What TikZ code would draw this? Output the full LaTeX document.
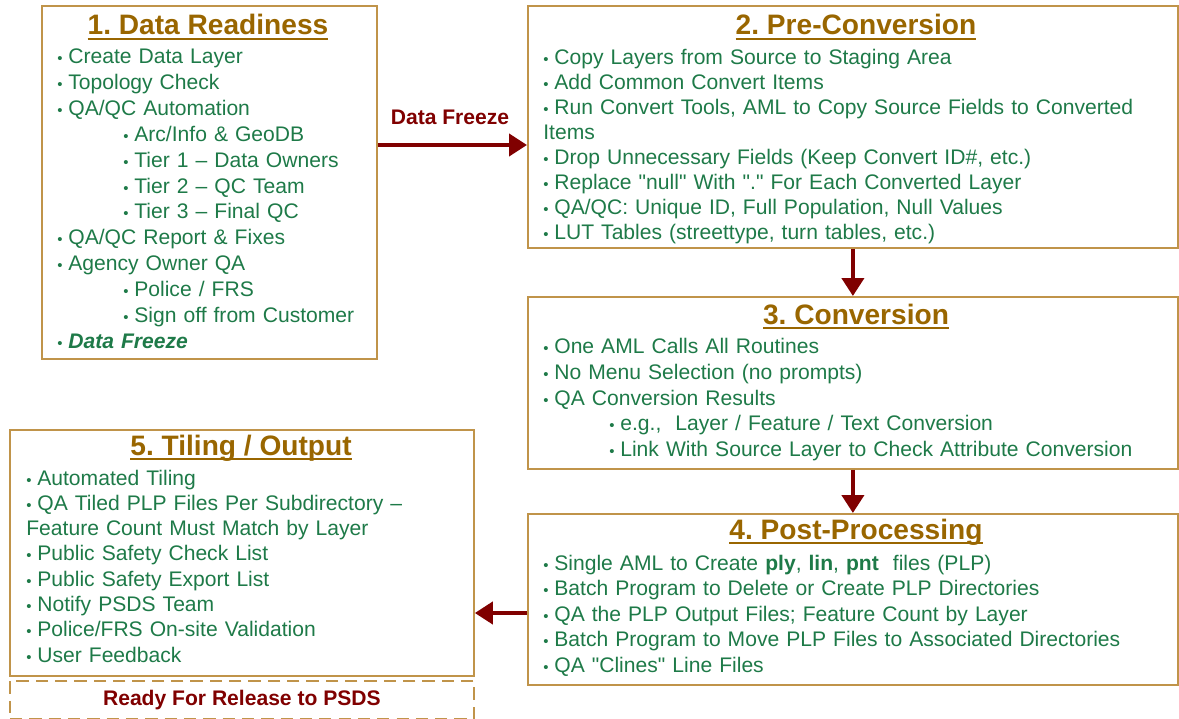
\documentclass[tikz,border=0pt]{standalone}
\usepackage{fontspec}
\setmainfont{Liberation Sans}
\usetikzlibrary{positioning, calc, arrows.meta}
\definecolor{boxgold}{HTML}{C0944A}
\definecolor{titlebrown}{HTML}{996600}
\definecolor{itemgreen}{HTML}{1E7A48}
\definecolor{flowred}{HTML}{800000}
\tikzset{ % box, title and list styles
  stage box/.style={draw=boxgold,line width=1.1pt,anchor=north west,inner sep=0},
  stage title/.style={text=titlebrown,font=\fontsize{16pt}{19pt}\selectfont\bfseries,anchor=base,inner sep=0},
  stage list/.style={text=itemgreen,font=\fontsize{12pt}{#1}\selectfont,align=left,
    anchor=base west,inner sep=0,text width=14cm},
  flow/.style={flowred,line width=2.3pt,-{Triangle[length=0.36cm,width=0.44cm]}},
  flow label/.style={text=flowred,font=\fontsize{12pt}{14pt}\selectfont\bfseries}
}
\frenchspacing
\newcommand\itm{\makebox[0.22cm][l]{\fontsize{8.5pt}{10pt}\selectfont •}}
\newcommand\ind{\hspace*{1.32cm}}
\newcommand\ttl[1]{\setbox0=\hbox{#1}\rlap{\rule[-2.6pt]{\wd0}{1pt}}\box0}
\newcommand\qt{\textquotedbl}

\begin{document}
\begin{tikzpicture}[x=0.02cm,y=-0.02cm]
\useasboundingbox (0,0) rectangle (1179,719);

% boxes
\node[stage box,minimum width=6.70cm,minimum height=7.06cm]  (ready)   at (41,5)    {};
\node[stage box,minimum width=13.0cm,minimum height=4.84cm]  (prep)    at (527,5)   {};
\node[stage box,minimum width=13.0cm,minimum height=3.44cm]  (conv)    at (527,296) {};
\node[stage box,minimum width=13.0cm,minimum height=3.42cm]  (post)    at (527,513) {};
\node[stage box,minimum width=9.28cm,minimum height=4.92cm]  (tile)    at (9,429)   {};
\node[stage box,dash pattern=on 7pt off 4pt,minimum width=9.28cm,minimum height=0.76cm,
      flow label] (release) at (9,680) {Ready For Release to PSDS};

% titles
\node[stage title] (t_ready) at (208,35)  {\ttl{1. Data Readiness}};
\node[stage title] (t_prep)  at (856,35)  {\ttl{2. Pre-Conversion}};
\node[stage title] (t_conv)  at (856,324) {\ttl{3. Conversion}};
\node[stage title] (t_post)  at (856,539) {\ttl{4. Post-Processing}};
\node[stage title] (t_tile)  at (241,455) {\ttl{5. Tiling / Output}};

% lists
\node[stage list=14.7pt] (l_ready) at (57,64) {%
\itm Create Data Layer\\
\itm Topology Check\\
\itm QA/QC Automation\\
\ind\itm Arc/Info \& GeoDB\\
\ind\itm Tier 1 – Data Owners\\
\ind\itm Tier 2 – QC Team\\
\ind\itm Tier 3 – Final QC\\
\itm QA/QC Report \& Fixes\\
\itm Agency Owner QA\\
\ind\itm Police / FRS\\
\ind\itm Sign off from Customer\\
\itm\textbf{\textit{Data Freeze}}};

\node[stage list=14.2pt] (l_prep) at (543,65) {%
\itm Copy Layers from Source to Staging Area\\
\itm Add Common Convert Items\\
\itm Run Convert Tools, AML to Copy Source Fields to Converted\\
Items\\
\itm Drop Unnecessary Fields (Keep Convert ID\#, etc.)\\
\itm Replace \qt null\qt{} With \qt.\qt{} For Each Converted Layer\\
\itm QA/QC: Unique ID, Full Population, Null Values\\
\itm LUT Tables (streettype, turn tables, etc.)};

\node[stage list=14.6pt] (l_conv) at (543,354) {%
\itm One AML Calls All Routines\\
\itm No Menu Selection (no prompts)\\
\itm QA Conversion Results\\
\ind\itm e.g.,\ \ Layer / Feature / Text Conversion\\
\ind\itm Link With Source Layer to Check Attribute Conversion};

\node[stage list=14.6pt] (l_post) at (543,570) {%
\itm Single AML to Create \textbf{ply}, \textbf{lin}, \textbf{pnt}\ \ files (PLP)\\
\itm Batch Program to Delete or Create PLP Directories\\
\itm QA the PLP Output Files; Feature Count by Layer\\
\itm Batch Program to Move PLP Files to Associated Directories\\
\itm QA \qt Clines\qt{} Line Files};

\node[stage list=14.4pt] (l_tile) at (26,485) {%
\itm Automated Tiling\\
\itm QA Tiled PLP Files Per Subdirectory –\\
Feature Count Must Match by Layer\\
\itm Public Safety Check List\\
\itm Public Safety Export List\\
\itm Notify PSDS Team\\
\itm Police/FRS On-site Validation\\
\itm User Feedback};

% connections
\draw[flow] (ready.east |- 0,145) -- (prep.west |- 0,145);
\node[flow label] (freeze) at (450,117) {Data Freeze};
\draw[flow] (prep.south) -- (conv.north);
\draw[flow] (conv.south) -- (post.north);
\draw[flow] (post.west |- 0,613) -- (tile.east |- 0,613);
\end{tikzpicture}
\end{document}
